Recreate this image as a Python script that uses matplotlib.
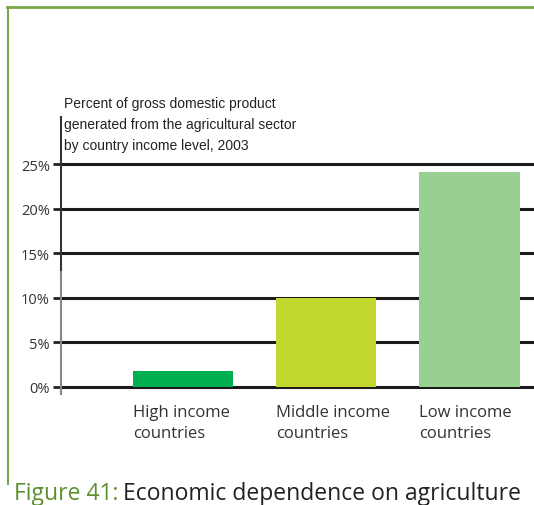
import matplotlib
matplotlib.use("Agg")
import matplotlib.pyplot as plt
from matplotlib import font_manager
from matplotlib.lines import Line2D

# data
categories = ["High income\ncountries", "Middle income\ncountries", "Low income\ncountries"]
values = [1.8, 10.0, 24.1]
bar_colors = ["#00b050", "#c3d82e", "#98d092"]
yticks = [0, 5, 10, 15, 20, 25]
ytick_labels = ["0%", "5%", "10%", "15%", "20%", "25%"]
header = "Percent of gross domestic product\ngenerated from the agricultural sector\nby country income level, 2003"

names = {f.name for f in font_manager.fontManager.ttflist}
narrow = "Liberation Sans Narrow" if "Liberation Sans Narrow" in names else "Liberation Sans"
body = "Open Sans" if "Open Sans" in names else "DejaVu Sans"

W, H = 534, 506
fig = plt.figure(figsize=(W / 100, H / 100), dpi=100)

# axes: spine at x=61px, right edge of picture; y from 395px (bottom) to 118px (top)
ax = fig.add_axes([61 / W, (H - 395) / H, (W - 61) / W, (395 - 118) / H])
x = range(len(categories))
ax.bar(x, values, width=0.7, color=bar_colors, zorder=3)
ax.set_xlim(-0.85, 2.45)
ax.set_ylim(-0.8, 30.3)

ax.set_yticks(yticks)
ax.set_yticklabels(ytick_labels, fontsize=10.5, color="#333333", family=body)
ax.tick_params(axis="y", length=6, width=2, color="#222222", pad=2)
ax.set_xticks([])
ax.yaxis.grid(True, color="#1a1a1a", linewidth=2.2)
ax.set_axisbelow(True)
for s in ax.spines.values():
    s.set_visible(False)

# y axis line: dark on top, lighter lower part
tr = ax.get_yaxis_transform()
ax.plot([0, 0], [12.9, 30.3], transform=tr, color="#333333", lw=1.5, clip_on=False, zorder=4)
ax.plot([0, 0], [-0.8, 12.9], transform=tr, color="#888888", lw=1.5, clip_on=False, zorder=4)

# category labels left-aligned under bars
for i, lab in enumerate(categories):
    ax.text(i - 0.35, -1.9, lab, ha="left", va="top", fontsize=12, color="#333333",
            family=body, linespacing=1.45)

fig.text(64 / W, 1 - 97 / H, header, ha="left", va="top", fontsize=10,
         family=narrow, color="#222222", linespacing=1.65)

# caption
t1 = fig.text(14 / W, 1 - 500 / H, "Figure 41:", ha="left", va="baseline",
              fontsize=16.5, color="#5c8f2e", family=body)
fig.canvas.draw()
bb = t1.get_window_extent()
fig.text(bb.x1 / W + 5 / W, 1 - 500 / H, "Economic dependence on agriculture",
         ha="left", va="baseline", fontsize=16.5, color="#222222", family=body)

# green frame, top and left
fig.add_artist(Line2D([7 / W, 1], [1 - 8 / H, 1 - 8 / H], transform=fig.transFigure,
                      color="#7aa84a", lw=2))
fig.add_artist(Line2D([8 / W, 8 / W], [1 - 8 / H, 1 - 485 / H], transform=fig.transFigure,
                      color="#7aa84a", lw=1.5))

fig.savefig("out.png", dpi=100)
